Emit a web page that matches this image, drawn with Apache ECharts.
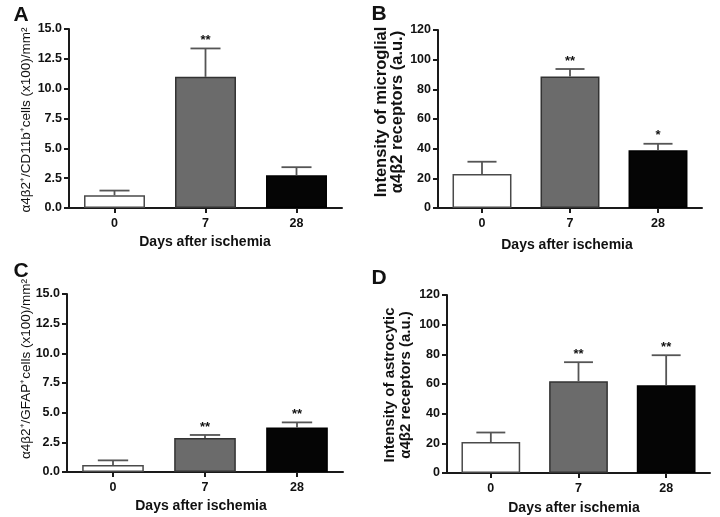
<!DOCTYPE html>
<html>
<head>
<meta charset="utf-8">
<script src="https://cdn.jsdelivr.net/npm/echarts@6/dist/echarts.min.js"></script>
<style>
html,body{margin:0;padding:0;background:#fff;}
#c{width:720px;height:517px;}
</style>
</head>
<body>
<div id="c"></div>
<script>
// ---- data ----
const categories = ['0', '7', '28'];
const meanA = [1.07, 10.99, 2.75];
const semA  = [0.39, 2.38, 0.67];
const sigA  = ['', '**', ''];
const meanB = [22.9, 88.6, 39.0];
const semB  = [8.3, 5.1, 4.3];
const sigB  = ['', '**', '*'];
const meanC = [0.59, 2.86, 3.76];
const semC  = [0.39, 0.26, 0.42];
const sigC  = ['', '**', '**'];
const meanD = [20.9, 61.9, 59.2];
const semD  = [6.4, 12.8, 20.2];
const sigD  = ['', '**', '**'];
const yMaxCells = 15, yStepCells = 2.5;
const yMaxInt = 120, yStepInt = 20;
const panelLetters = ['A', 'B', 'C', 'D'];
const xTitle = 'Days after ischemia';
const yTitleA = 'α4β2⁺/CD11b⁺cells (x100)/mm²';
const yTitleB = 'Intensity of microglial\nα4β2 receptors (a.u.)';
const yTitleC = 'α4β2⁺/GFAP⁺cells (x100)/mm²';
const yTitleD = 'Intensity of astrocytic\nα4β2 receptors (a.u.)';

// ---- styles ----
const FONT = '"Liberation Sans", Arial, sans-serif';
const AX = '#1a1a1a';
const barStyles = [
  {color: '#ffffff', borderColor: '#4a4a4a', borderWidth: 1.5},
  {color: '#6b6b6b', borderColor: '#333333', borderWidth: 1.5},
  {color: '#050505', borderColor: '#000000', borderWidth: 1.5}
];
const grids = [
  {left: 69, top: 29, width: 273, height: 179},
  {left: 438, top: 30, width: 264, height: 178},
  {left: 67, top: 294, width: 276, height: 178},
  {left: 447, top: 295, width: 263, height: 178}
];

function xAxisFor(i) {
  return {
    type: 'category', gridIndex: i, data: categories,
    axisLine: {show: true, lineStyle: {color: AX, width: 2}},
    axisTick: {show: true, alignWithLabel: true, length: 5, lineStyle: {color: AX, width: 2}},
    axisLabel: {margin: 9, color: '#111', fontFamily: FONT, fontWeight: 'bold', fontSize: 12.5},
    splitLine: {show: false}
  };
}
function yAxisFor(i, max, step, dec) {
  return {
    type: 'value', gridIndex: i, min: 0, max: max, interval: step,
    axisLine: {show: true, lineStyle: {color: AX, width: 2}},
    axisTick: {show: true, length: 5, lineStyle: {color: AX, width: 2}},
    axisLabel: {margin: 7, color: '#111', fontFamily: FONT, fontWeight: 'bold', fontSize: 12.5,
      formatter: v => v.toFixed(dec)},
    splitLine: {show: false}
  };
}
function barSeries(i, mean) {
  return {
    type: 'bar', xAxisIndex: i, yAxisIndex: i, barWidth: '67%',
    data: mean.map((v, k) => ({value: v, itemStyle: barStyles[k]})),
    z: 2
  };
}
function errSeries(i, mean, sem, sig) {
  return {
    type: 'custom', xAxisIndex: i, yAxisIndex: i, z: 3,
    data: mean.map((v, k) => [k, v, sem[k]]),
    encode: {x: 0, y: 1},
    renderItem: function (params, api) {
      const x = api.value(0), m = api.value(1), s = api.value(2);
      const p0 = api.coord([x, m]);
      const p1 = api.coord([x, m + s]);
      const hw = api.size([1, 0])[0] * 0.165;
      const ls = {stroke: '#555555', lineWidth: 1.8};
      const children = [
        {type: 'line', shape: {x1: p0[0], y1: p0[1], x2: p1[0], y2: p1[1]}, style: ls},
        {type: 'line', shape: {x1: p1[0] - hw, y1: p1[1], x2: p1[0] + hw, y2: p1[1]}, style: ls}
      ];
      const t = sig[params.dataIndex];
      if (t) {
        children.push({type: 'text', x: p1[0], y: p1[1] - 8,
          style: {text: t, font: 'bold 13px ' + FONT, fill: '#111', align: 'center', verticalAlign: 'middle'}});
      }
      return {type: 'group', children: children};
    }
  };
}
function txt(x, y, text, font, rot, lh) {
  const o = {type: 'text', x: x, y: y,
    style: {text: text, font: font, fill: '#111', align: 'center', verticalAlign: 'middle'}};
  if (rot) o.rotation = Math.PI / 2;
  if (lh) o.style.lineHeight = lh;
  return o;
}

const chart = echarts.init(document.getElementById('c'), null, {renderer: 'canvas'});
chart.setOption({
  animation: false,
  backgroundColor: '#ffffff',
  grid: grids,
  xAxis: [xAxisFor(0), xAxisFor(1), xAxisFor(2), xAxisFor(3)],
  yAxis: [
    yAxisFor(0, yMaxCells, yStepCells, 1),
    yAxisFor(1, yMaxInt, yStepInt, 0),
    yAxisFor(2, yMaxCells, yStepCells, 1),
    yAxisFor(3, yMaxInt, yStepInt, 0)
  ],
  series: [
    barSeries(0, meanA), errSeries(0, meanA, semA, sigA),
    barSeries(1, meanB), errSeries(1, meanB, semB, sigB),
    barSeries(2, meanC), errSeries(2, meanC, semC, sigC),
    barSeries(3, meanD), errSeries(3, meanD, semD, sigD)
  ],
  graphic: [
    txt(21, 15, panelLetters[0], 'bold 21px ' + FONT),
    txt(379, 14, panelLetters[1], 'bold 21px ' + FONT),
    txt(21, 271, panelLetters[2], 'bold 21px ' + FONT),
    txt(379, 278, panelLetters[3], 'bold 21px ' + FONT),
    txt(205, 242, xTitle, 'bold 14px ' + FONT),
    txt(567, 245, xTitle, 'bold 14px ' + FONT),
    txt(201, 506, xTitle, 'bold 14px ' + FONT),
    txt(574, 508, xTitle, 'bold 14px ' + FONT),
    txt(26, 120, yTitleA, '13.5px ' + FONT, true),
    txt(389, 112, yTitleB, 'bold 16.5px ' + FONT, true, 16),
    txt(26, 369, yTitleC, '13.5px ' + FONT, true),
    txt(398, 385, yTitleD, 'bold 15px ' + FONT, true, 16)
  ]
});
</script>
</body>
</html>
